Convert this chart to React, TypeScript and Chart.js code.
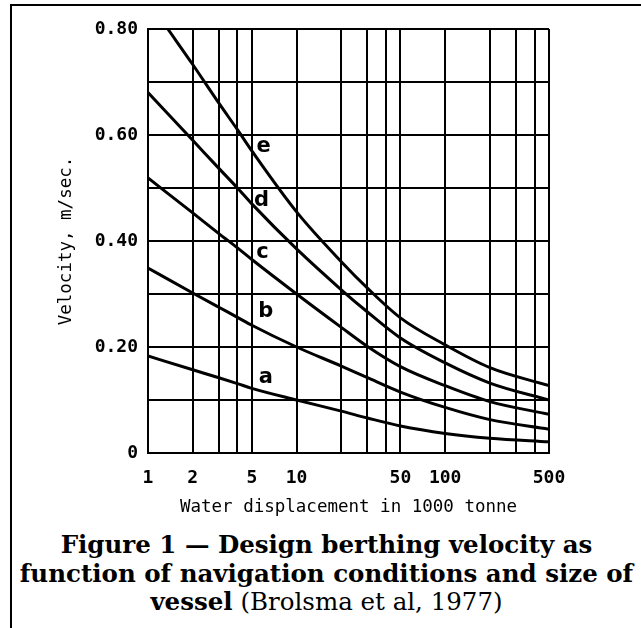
import React, { useEffect, useRef } from 'react';
import { Chart, registerables } from 'chart.js';

Chart.register(...registerables);

// Water displacement (1000 tonne) at which curves were read
const displacement = [1, 2, 3, 4, 5, 10, 20, 30, 50, 100, 200, 500];
const displacementE = [1.36, 2, 3, 4, 5, 10, 20, 30, 50, 100, 200, 500];

// Velocity (m/sec) for navigation conditions a..e
const velocityA = [0.183, 0.157, 0.142, 0.131, 0.122, 0.1, 0.079, 0.066, 0.051, 0.037, 0.028, 0.021];
const velocityB = [0.349, 0.302, 0.275, 0.256, 0.241, 0.2, 0.164, 0.142, 0.115, 0.086, 0.063, 0.045];
const velocityC = [0.519, 0.453, 0.414, 0.387, 0.365, 0.3, 0.237, 0.201, 0.163, 0.127, 0.097, 0.073];
const velocityD = [0.68, 0.59, 0.537, 0.5, 0.47, 0.385, 0.308, 0.266, 0.217, 0.17, 0.132, 0.1];
const velocityE = [0.8, 0.733, 0.66, 0.61, 0.57, 0.455, 0.361, 0.311, 0.255, 0.204, 0.161, 0.127];

const curveNames = ['a', 'b', 'c', 'd', 'e'];
const curveLabelX = [6.2, 6.2, 5.9, 5.8, 6.0];
const curveLabelY = [0.143, 0.266, 0.379, 0.477, 0.579];

const xGridValues = [1, 2, 3, 4, 5, 10, 20, 30, 40, 50, 100, 200, 300, 400, 500];
const xTickLabels = [1, 2, 5, 10, 50, 100, 500];
const yTickLabels = [0, 0.2, 0.4, 0.6, 0.8];

const xTitle = 'Water displacement in 1000 tonne';
const yTitle = 'Velocity, m/sec.';

const toPoints = (xs: number[], ys: number[]) => xs.map((x, i) => ({ x, y: ys[i] }));

const curveLabelPlugin = {
  id: 'curveLabels',
  afterDatasetsDraw(chart: any) {
    const { ctx, scales } = chart;
    const xs = scales.x;
    const ys = scales.y;
    ctx.save();
    ctx.font = 'bold 21px "DejaVu Sans"';
    ctx.fillStyle = '#000';
    ctx.textAlign = 'center';
    ctx.textBaseline = 'middle';
    curveNames.forEach((n, i) => {
      ctx.fillText(n, xs.getPixelForValue(curveLabelX[i]), ys.getPixelForValue(curveLabelY[i]));
    });
    ctx.restore();
  },
};

export default function App() {
  const canvasRef = useRef<HTMLCanvasElement | null>(null);

  useEffect(() => {
    if (!canvasRef.current) return;
    const mk = (label: string, xs: number[], ys: number[]) => ({
      label,
      data: toPoints(xs, ys),
      borderColor: '#000',
      borderWidth: 3,
      pointRadius: 0,
      fill: false,
      cubicInterpolationMode: 'monotone' as const,
    });
    const chart = new Chart(canvasRef.current, {
      type: 'line',
      data: {
        datasets: [
          mk('a', displacement, velocityA),
          mk('b', displacement, velocityB),
          mk('c', displacement, velocityC),
          mk('d', displacement, velocityD),
          mk('e', displacementE, velocityE),
        ],
      },
      options: {
        responsive: false,
        animation: false,
        devicePixelRatio: 1,
        layout: { padding: { left: 0, right: 92, top: 29, bottom: 0 } },
        plugins: {
          legend: { display: false },
          tooltip: { enabled: false },
        },
        scales: {
          x: {
            type: 'logarithmic',
            min: 1,
            max: 500,
            afterBuildTicks: (scale: any) => {
              scale.ticks = xGridValues.map((v) => ({ value: v }));
            },
            afterFit: (scale: any) => {
              scale.height = 77;
            },
            grid: { color: '#000', lineWidth: 2, drawTicks: false },
            border: { display: true, color: '#000', width: 2 },
            ticks: {
              autoSkip: false,
              maxRotation: 0,
              padding: 15,
              color: '#000',
              font: { family: '"DejaVu Sans Mono"', size: 18, weight: 'bold' },
              callback: (v: any) => (xTickLabels.includes(Number(v)) ? String(v) : ''),
            },
            title: {
              display: true,
              text: xTitle,
              color: '#000',
              font: { family: '"DejaVu Sans Mono"', size: 17.5 },
              padding: { top: 0, bottom: 12 },
            },
          },
          y: {
            type: 'linear',
            min: 0,
            max: 0.8,
            afterFit: (scale: any) => {
              scale.width = 148;
            },
            grid: { color: '#000', lineWidth: 2, drawTicks: false },
            border: { display: true, color: '#000', width: 2 },
            ticks: {
              stepSize: 0.1,
              padding: 10,
              color: '#000',
              font: { family: '"DejaVu Sans Mono"', size: 18, weight: 'bold' },
              callback: (v: any) => {
                const val = Number(v);
                const hit = yTickLabels.find((t) => Math.abs(t - val) < 1e-6);
                if (hit === undefined) return '';
                return hit === 0 ? '0' : hit.toFixed(2);
              },
            },
            title: {
              display: true,
              text: yTitle,
              color: '#000',
              font: { family: '"DejaVu Sans Mono"', size: 17.5 },
              padding: { top: 56, bottom: 0 },
            },
          },
        },
      },
      plugins: [curveLabelPlugin],
    });
    return () => chart.destroy();
  }, []);

  return (
    <div style={{ position: 'absolute', left: 0, top: 0, width: 641, height: 628, overflow: 'hidden', background: '#fff' }}>
      <div
        style={{
          position: 'absolute',
          left: 10,
          top: 4,
          width: 631,
          height: 624,
          boxSizing: 'border-box',
          borderTop: '2px solid #000',
          borderLeft: '2px solid #000',
        }}
      />
      <canvas ref={canvasRef} width={641} height={530} style={{ position: 'absolute', left: 0, top: 0, width: 641, height: 530 }} />
      <div
        style={{
          position: 'absolute',
          left: 12,
          top: 531,
          width: 629,
          textAlign: 'center',
          whiteSpace: 'nowrap',
          fontFamily: '"DejaVu Serif"',
          fontSize: 24.5,
          lineHeight: '28.5px',
          color: '#000',
        }}
      >
        <b>Figure 1 — Design berthing velocity as</b>
        <br />
        <b>function of navigation conditions and size of</b>
        <br />
        <b>vessel</b> (Brolsma et al, 1977)
      </div>
    </div>
  );
}
